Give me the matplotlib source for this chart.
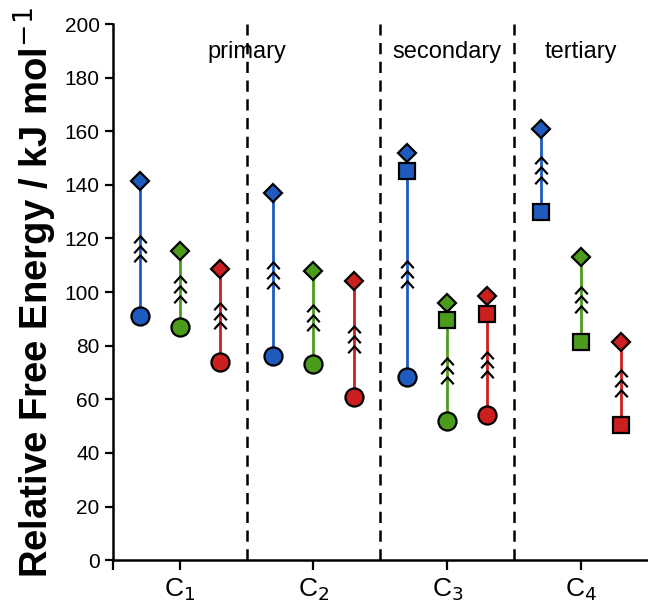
import matplotlib.pyplot as plt
from matplotlib.path import Path

plt.rcParams['font.family'] = ['Liberation Sans', 'DejaVu Sans']

# data (kJ/mol)
groups = ['C$_1$', 'C$_2$', 'C$_3$', 'C$_4$']
colors = ['#1f5bbf', '#4c9c1c', '#cc1f1f']
# top (diamond), square (None where absent), circle (None where absent)
diamond = [[141.5, 115.5, 108.5], [137, 108, 104], [152, 96, 98.5], [161, 113, 81.5]]
square = [[None, None, None], [None, None, None], [145, 89.5, 92], [130, 81.5, 50.5]]
circle = [[91, 87, 74], [76, 73, 61], [68.5, 52, 54], [None, None, None]]
region_labels = ['primary', 'secondary', 'tertiary']
region_x = [1.0, 2.5, 3.5]
offsets = [-0.3, 0.0, 0.3]

chevron = Path([(-1, -0.6), (0, 0.5), (1, -0.6)], [Path.MOVETO, Path.LINETO, Path.LINETO])

fig = plt.figure(figsize=(6.48, 6.01), dpi=100)
ax = fig.add_axes([0.174, 0.068, 0.826, 0.892])

for i in range(4):
    for j in range(3):
        x = i + 0.5 + offsets[j]
        c = colors[j]
        top = diamond[i][j]
        sq = square[i][j]
        ci = circle[i][j]
        bottom = ci if ci is not None else sq
        ax.plot([x, x], [bottom, top], color=c, lw=2, zorder=2)
        # arrow chevrons at midpoint of the reaction step
        upper = sq if (sq is not None and ci is not None) else top
        mid = (bottom + upper) / 2
        ax.plot([x] * 3, [mid - 3.7, mid, mid + 3.7], ls='none', marker=chevron,
                ms=9, mfc='none', mec='black', mew=1.6, zorder=3)
        ax.plot(x, top, marker='D', ms=9.5, color=c, mec='black', mew=1.6, zorder=4)
        if sq is not None:
            ax.plot(x, sq, marker='s', ms=12, color=c, mec='black', mew=1.6, zorder=4)
        if ci is not None:
            ax.plot(x, ci, marker='o', ms=13, color=c, mec='black', mew=1.6, zorder=4)

for b in [1, 2, 3]:
    ax.plot([b, b], [0, 200], color='black', ls=(0, (4.5, 3)), lw=1.8, zorder=1)

for lab, xx in zip(region_labels, region_x):
    ax.text(xx, 189.5, lab, ha='center', va='center', fontsize=17)

ax.set_xlim(0, 4)
ax.set_ylim(0, 200)
ax.set_yticks(range(0, 201, 20))
ax.set_xticks([0.5, 1.5, 2.5, 3.5])
ax.set_xticklabels(groups, fontsize=19)
ax.tick_params(axis='y', labelsize=15, width=1.6, length=6)
ax.tick_params(axis='x', width=1.6, length=7, pad=5)
ax.set_xticks([0], minor=True)
ax.tick_params(axis='x', which='minor', width=1.6, length=7)
for s in ['top', 'right']:
    ax.spines[s].set_visible(False)
for s in ['left', 'bottom']:
    ax.spines[s].set_linewidth(1.8)
ax.set_ylabel('Relative Free Energy / kJ mol$^{-1}$', fontsize=27.5, fontweight='bold', labelpad=4)

fig.savefig('out.png', dpi=100)
